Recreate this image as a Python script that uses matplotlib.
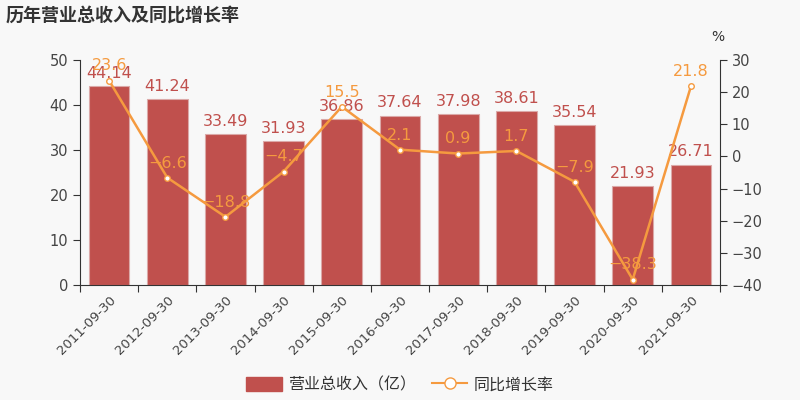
import matplotlib
matplotlib.use("Agg")
import matplotlib.pyplot as plt
from matplotlib.lines import Line2D
from matplotlib.patches import Patch
import numpy as np

plt.rcParams['font.family'] = ['Noto Sans CJK SC', 'DejaVu Sans']
plt.rcParams['axes.unicode_minus'] = True

categories = ["2011-09-30", "2012-09-30", "2013-09-30", "2014-09-30", "2015-09-30",
              "2016-09-30", "2017-09-30", "2018-09-30", "2019-09-30", "2020-09-30", "2021-09-30"]
revenue = [44.14, 41.24, 33.49, 31.93, 36.86, 37.64, 37.98, 38.61, 35.54, 21.93, 26.71]
growth = [23.6, -6.6, -18.8, -4.7, 15.5, 2.1, 0.9, 1.7, -7.9, -38.3, 21.8]

bar_color = "#c0504d"
line_color = "#f59a3f"
bg = "#f8f8f8"
axis_color = "#333333"
text_color = "#444444"

fig = plt.figure(figsize=(8, 4), dpi=100, facecolor=bg)
ax = fig.add_axes([0.1, 0.2875, 0.8, 0.5625], facecolor=bg)
ax2 = ax.twinx()

x = np.arange(len(categories))
ax.bar(x, revenue, width=0.7, color=bar_color, edgecolor="#dba9a8", linewidth=0.8, zorder=2)
for xi, v in zip(x, revenue):
    ax.text(xi, v + 1.2, f"{v:.2f}", ha="center", va="bottom", color=bar_color, fontsize=11.5,
            family="DejaVu Sans", zorder=5)

ax.set_xlim(-0.5, len(categories) - 0.5)
ax.set_ylim(0, 50)
ax.set_yticks([0, 10, 20, 30, 40, 50])
ax2.set_ylim(-40, 30)
ax2.set_yticks([-40, -30, -20, -10, 0, 10, 20, 30])

ax2.plot(x, growth, color=line_color, linewidth=1.8, marker="o", markersize=4,
         markerfacecolor="white", markeredgecolor=line_color, markeredgewidth=1, zorder=4)
for xi, g in zip(x, growth):
    ax2.text(xi, g + 2.2, f"{g:.1f}".replace("-", "\u2212"), ha="center", va="bottom",
             color=line_color, fontsize=11.5, family="DejaVu Sans", zorder=6)

# x ticks: marks at boundaries, labels at centers
ax.set_xticks(np.arange(-0.5, len(categories), 1.0))
ax.set_xticklabels([])
ax.tick_params(axis="x", which="major", length=5, color=axis_color)
ax.set_xticks(x, minor=True)
ax.set_xticklabels(categories, minor=True, rotation=45, ha="right", rotation_mode="anchor",
                   fontsize=9.5, color=text_color, family="DejaVu Sans")
ax.tick_params(axis="x", which="minor", length=0, pad=6)

ax.tick_params(axis="y", length=5, color=axis_color, labelcolor=text_color, labelsize=10.5)
ax2.tick_params(axis="y", length=5, color=axis_color, labelcolor=text_color, labelsize=10.5)
for lab in ax.get_yticklabels() + ax2.get_yticklabels():
    lab.set_family("DejaVu Sans")
ax2.set_yticklabels([str(v).replace("-", "\u2212") for v in [-40, -30, -20, -10, 0, 10, 20, 30]])

for a in (ax, ax2):
    a.spines["top"].set_visible(False)
for sp in ("left", "bottom"):
    ax.spines[sp].set_color(axis_color)
ax.spines["right"].set_visible(False)
ax2.spines["left"].set_visible(False)
ax2.spines["bottom"].set_visible(False)
ax2.spines["right"].set_color(axis_color)

fig.text(718 / 800, 1 - 37 / 400, "%", ha="center", va="center", fontsize=10, color=axis_color,
         family="DejaVu Sans")

fig.text(6 / 800, 1 - 15 / 400, "历年营业总收入及同比增长率", ha="left", va="center",
         fontsize=13, fontweight="bold", color="#333333")

handles = [Patch(facecolor=bar_color, edgecolor=bar_color),
           Line2D([0], [0], color=line_color, linewidth=1.5, marker="o", markersize=8,
                  markerfacecolor="white", markeredgecolor=line_color)]
fig.legend(handles, ["营业总收入（亿）", "同比增长率"], loc="center", bbox_to_anchor=(0.5, 1 - 385 / 400),
           ncol=2, frameon=False, fontsize=11.5, handlelength=2.2, handleheight=1.0,
           columnspacing=1.0, handletextpad=0.4, labelcolor="#333333")

fig.savefig("out.png", dpi=100, facecolor=bg)
